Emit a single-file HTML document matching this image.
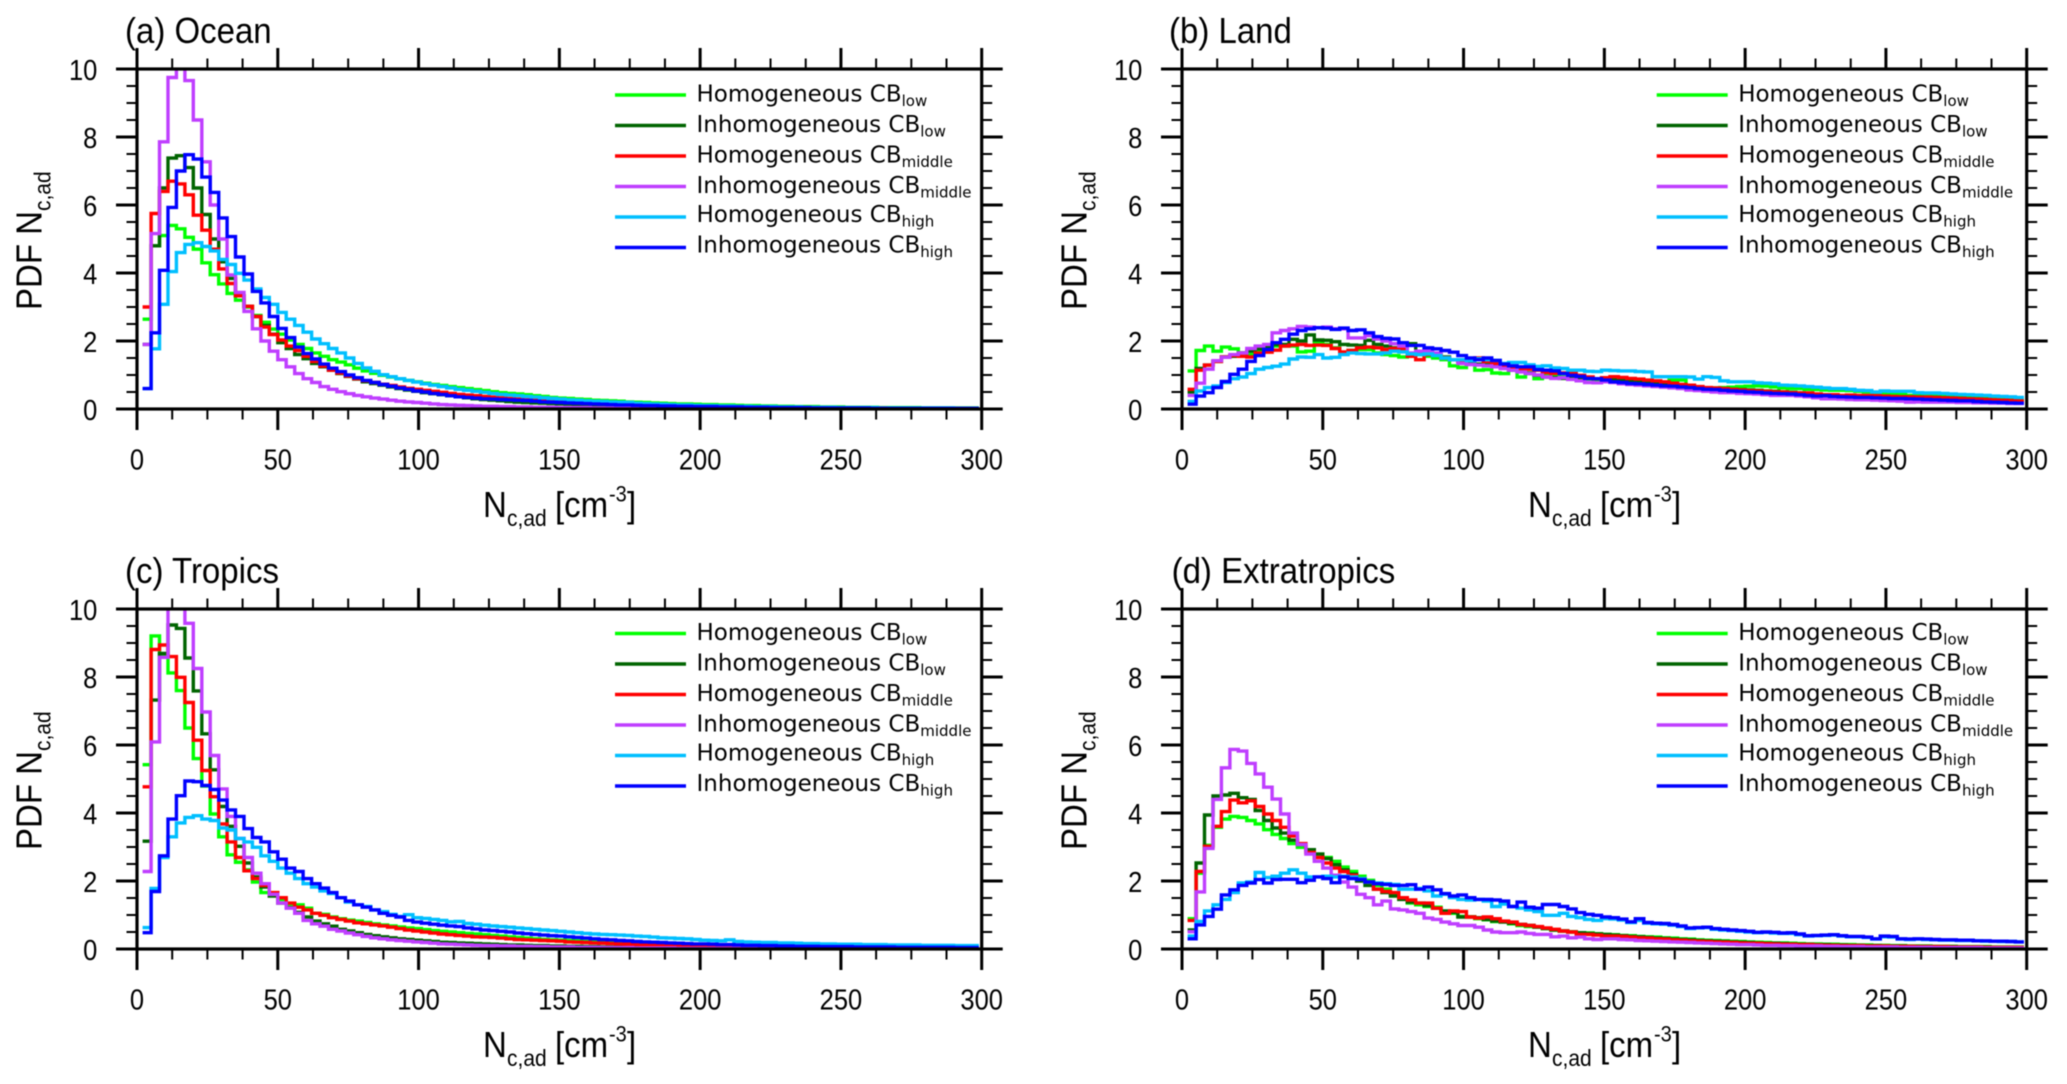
<!DOCTYPE html>
<html lang="en">
<head>
<meta charset="utf-8">
<title>PDF of Nc,ad by region</title>
<style>
html,body{margin:0;padding:0;background:#fff;width:2067px;height:1084px;overflow:hidden}
svg{display:block;filter:blur(0.4px)}
</style>
</head>
<body>
<svg id="chart" xmlns="http://www.w3.org/2000/svg" width="2067" height="1084" viewBox="0 0 2067 1084"></svg>
<script>
const xTickLabels = [0, 50, 100, 150, 200, 250, 300];
const yTickLabels = [0, 2, 4, 6, 8, 10];
const xMinorTicks = [12.5, 25, 37.5, 62.5, 75, 87.5, 112.5, 125, 137.5, 162.5, 175, 187.5, 212.5, 225, 237.5, 262.5, 275, 287.5];
const yMinorTicks = [0.5, 1, 1.5, 2.5, 3, 3.5, 4.5, 5, 5.5, 6.5, 7, 7.5, 8.5, 9, 9.5];
const seriesKinds = ['Homogeneous', 'Inhomogeneous', 'Homogeneous', 'Inhomogeneous', 'Homogeneous', 'Inhomogeneous'];
const seriesLevels = ['low', 'low', 'middle', 'middle', 'high', 'high'];
const seriesColors = ['#00ff00', '#006400', '#ff0000', '#bf3eff', '#00bfff', '#0000ff'];

const oceanHomLow = [2.64,4.8,5.1,5.4,5.3,5.05,4.7,4.3,3.95,3.68,
3.4,3.2,3.0,2.75,2.55,2.35,2.2,2.03,1.9,1.78,
1.65,1.55,1.45,1.38,1.3,1.2,1.12,1.05,.99,.94,
.89,.84,.8,.76,.72,.69,.66,.63,.6,.57,
.54,.51,.48,.46,.44,.42,.39,.37,.34,.32,
.31,.29,.28,.26,.25,.24,.23,.21,.2,.19,
.18,.17,.16,.15,.15,.14,.13,.13,.12,.12,
.11,.1,.1,.09,.09,.08,.08,.07,.07,.07,
.06,.06,.06,.05,.05,.05,.05,.04,.04,.04,
.04,.04,.03,.03,.03,.03,.03,.03,.03];
const oceanInhomLow = [1.9,4.8,6.5,7.38,7.45,7.1,6.5,5.72,5.0,4.33,
3.84,3.33,3.02,2.72,2.46,2.2,1.95,1.78,1.6,1.48,
1.34,1.24,1.14,1.04,.96,.88,.8,.75,.7,.65,
.6,.56,.52,.48,.45,.42,.39,.36,.33,.3,
.28,.26,.24,.22,.2,.19,.18,.17,.16,.15,
.14,.13,.12,.11,.11,.1,.09,.09,.08,.08,
.07,.07,.07,.06,.06,.06,.05,.05,.05,.05,
.04,.04,.04,.04,.04,.03,.03,.03,.03,.03,
.03,.03,.02,.02,.02,.02,.02,.02,.02,.02,
.02,.02,.02,.02,.02,.02,.02,.02,.02];
const oceanHomMiddle = [3.0,5.75,6.4,6.7,6.62,6.3,5.7,5.26,4.7,4.12,
3.69,3.33,3.02,2.72,2.41,2.19,2.03,1.85,1.72,1.55,
1.4,1.26,1.14,1.06,.97,.89,.83,.78,.73,.69,
.65,.61,.58,.55,.52,.49,.46,.43,.41,.39,
.37,.35,.33,.31,.29,.27,.26,.24,.23,.21,
.2,.19,.18,.17,.16,.15,.14,.13,.12,.12,
.11,.1,.1,.09,.09,.08,.08,.07,.07,.07,
.06,.06,.06,.05,.05,.05,.05,.04,.04,.04,
.04,.03,.03,.03,.03,.03,.03,.03,.02,.02,
.02,.02,.02,.02,.02,.02,.02,.02,.02];
const oceanInhomMiddle = [1.9,5.16,7.86,9.75,10.2,9.66,8.5,7.27,6.0,5.0,
3.94,3.43,2.87,2.36,2.0,1.7,1.45,1.24,1.04,.89,
.78,.66,.58,.51,.45,.4,.36,.32,.29,.26,
.23,.21,.19,.17,.15,.13,.12,.11,.1,.09,
.08,.08,.07,.07,.06,.06,.05,.05,.05,.04,
.04,.04,.04,.03,.03,.03,.03,.03,.03,.02,
.02,.02,.02,.02,.02,.02,.02,.02,.02,.02,
.01,.01,.01,.01,.01,.01,.01,.01,.01,.01,
.01,.01,.01,.01,.01,.01,.01,.01,.01,.01,
.01,.01,.01,.01,.01,.01,.01,.01,.01];
const oceanHomHigh = [.6,1.77,3.08,4.04,4.6,4.84,4.89,4.78,4.65,4.4,
4.25,3.99,3.79,3.53,3.28,3.08,2.84,2.64,2.46,2.26,
2.06,1.92,1.78,1.65,1.5,1.34,1.21,1.11,1.01,.95,
.89,.84,.79,.74,.7,.66,.62,.58,.55,.52,
.49,.46,.43,.41,.39,.37,.35,.33,.31,.29,
.27,.26,.24,.23,.22,.21,.2,.19,.17,.16,
.15,.14,.13,.12,.12,.11,.1,.1,.09,.09,
.08,.08,.07,.07,.07,.06,.06,.06,.05,.05,
.05,.05,.04,.04,.04,.04,.04,.03,.03,.03,
.03,.03,.03,.03,.03,.03,.02,.02,.02];
const oceanInhomHigh = [.6,2.24,4.08,5.93,7.0,7.48,7.35,6.82,6.37,5.62,
5.07,4.47,3.97,3.46,3.12,2.72,2.37,2.1,1.82,1.63,
1.47,1.32,1.2,1.1,1.0,.92,.84,.78,.72,.67,
.62,.58,.53,.5,.46,.43,.39,.36,.34,.32,
.3,.29,.28,.27,.26,.25,.23,.21,.2,.19,
.18,.17,.16,.15,.14,.13,.12,.12,.11,.1,
.1,.09,.09,.08,.08,.07,.07,.07,.06,.06,
.06,.05,.05,.05,.04,.04,.04,.04,.04,.03,
.03,.03,.03,.03,.03,.03,.02,.02,.02,.02,
.02,.02,.02,.02,.02,.02,.02,.02,.02];

const landHomLow = [1.12,1.72,1.85,1.7,1.82,1.77,1.65,1.6,1.7,1.75,
1.85,1.85,1.85,1.68,1.7,1.95,1.9,1.8,1.65,1.72,
1.75,1.75,1.65,1.6,1.57,1.53,1.6,1.6,1.55,1.5,
1.45,1.27,1.22,1.45,1.14,1.16,1.06,1.04,1.24,.94,
1.04,.89,1.04,.99,.94,.92,.94,.88,.85,.83,
.85,.84,.82,.75,.72,.72,.68,.85,.85,.6,
.6,.6,.62,.63,.64,.66,.67,.68,.67,.65,
.62,.6,.6,.58,.57,.56,.55,.55,.54,.52,
.5,.48,.47,.45,.42,.4,.4,.39,.38,.38,
.37,.36,.35,.33,.31,.3,.29,.27,.26];
const landInhomLow = [.5,1.19,1.29,1.4,1.53,1.55,1.65,1.7,1.77,1.82,
1.9,1.9,2.05,2.0,2.18,2.03,2.02,1.98,1.9,1.88,
1.87,2.02,1.9,1.85,1.8,1.78,1.92,1.7,1.65,1.6,
1.53,1.45,1.4,1.34,1.32,1.3,1.26,1.2,1.14,1.11,
1.06,.99,.94,.92,.9,.92,.9,.9,.89,.88,
.87,.85,.83,.8,.78,.76,.73,.7,.68,.66,
.64,.62,.6,.6,.58,.57,.56,.55,.53,.52,
.5,.49,.47,.45,.42,.4,.4,.39,.39,.38,
.38,.37,.37,.36,.36,.35,.35,.34,.34,.33,
.32,.31,.3,.29,.28,.26,.25,.23,.21];
const landHomMiddle = [.58,1.14,1.29,1.4,1.53,1.57,1.55,1.53,1.65,1.67,
1.73,1.85,1.88,1.9,1.87,1.88,1.87,1.78,1.68,1.72,
1.8,1.82,1.8,1.75,1.78,1.78,1.55,1.45,1.6,1.6,
1.5,1.45,1.4,1.45,1.5,1.4,1.34,1.24,1.19,1.19,
1.17,1.14,1.07,1.05,1.06,1.06,.99,.94,.89,.92,
.95,.93,.9,.88,.85,.83,.8,.76,.72,.7,
.66,.63,.62,.6,.58,.56,.54,.53,.52,.5,
.5,.48,.47,.47,.44,.42,.42,.4,.41,.4,
.4,.39,.38,.37,.36,.36,.35,.35,.34,.33,
.32,.31,.3,.29,.28,.27,.26,.25,.24];
const landInhomMiddle = [.4,.76,1.17,1.42,1.52,1.6,1.65,1.78,1.85,1.9,
2.24,2.31,2.36,2.43,2.41,2.39,2.41,2.36,2.36,2.09,
2.09,2.16,2.06,2.0,1.92,1.85,1.65,1.7,1.7,1.65,
1.5,1.45,1.34,1.31,1.29,1.27,1.24,1.19,1.14,1.09,
1.04,1.0,.94,.9,.92,.87,.83,.78,.77,.8,
.78,.74,.72,.7,.68,.66,.64,.62,.6,.56,
.54,.52,.5,.48,.48,.46,.45,.44,.42,.4,
.4,.4,.38,.36,.33,.3,.3,.29,.28,.27,
.27,.26,.25,.24,.23,.2,.21,.2,.2,.2,
.2,.19,.19,.18,.18,.17,.17,.16,.16];
const landHomHigh = [.22,.53,.63,.68,.78,.89,.94,1.04,1.17,1.22,
1.26,1.32,1.47,1.53,1.52,1.6,1.5,1.52,1.6,1.65,
1.63,1.62,1.62,1.65,1.7,1.68,1.62,1.6,1.62,1.57,
1.5,1.45,1.45,1.42,1.48,1.45,1.43,1.34,1.37,1.37,
1.3,1.25,1.27,1.21,1.19,1.14,1.14,1.11,1.1,1.14,
1.13,1.12,1.12,1.1,1.09,.95,.95,.95,.95,.94,
.88,.95,.93,.83,.8,.8,.8,.77,.76,.74,
.7,.69,.68,.66,.64,.62,.6,.6,.58,.55,
.54,.5,.53,.52,.52,.52,.48,.47,.47,.46,
.44,.43,.42,.41,.4,.38,.37,.36,.34];
const landInhomHigh = [.14,.38,.48,.63,.81,1.02,1.17,1.4,1.57,1.75,
1.95,2.05,2.2,2.31,2.36,2.39,2.38,2.34,2.38,2.31,
2.33,2.24,2.13,2.08,2.06,1.95,1.87,1.87,1.8,1.77,
1.72,1.67,1.57,1.5,1.45,1.5,1.43,1.32,1.27,1.24,
1.24,1.16,1.14,1.12,1.04,.99,.96,.9,.89,.85,
.8,.78,.75,.74,.72,.7,.68,.67,.65,.63,
.6,.58,.57,.55,.53,.52,.5,.49,.47,.46,
.45,.44,.42,.4,.38,.39,.37,.36,.35,.34,
.34,.33,.32,.31,.31,.3,.29,.28,.27,.26,
.25,.24,.24,.22,.21,.2,.19,.18,.17];

const tropicsHomLow = [5.42,9.21,8.65,8.12,7.6,6.5,5.6,4.79,3.97,3.3,
2.77,2.55,2.33,1.97,1.66,1.63,1.46,1.33,1.3,1.2,
1.05,1.02,.94,.89,.85,.82,.78,.74,.71,.68,
.65,.62,.6,.57,.54,.52,.5,.48,.46,.44,
.42,.4,.38,.36,.34,.32,.3,.28,.27,.26,
.25,.24,.22,.21,.2,.19,.18,.17,.16,.15,
.14,.13,.12,.12,.11,.1,.1,.09,.09,.08,
.08,.07,.07,.06,.06,.06,.05,.05,.05,.04,
.04,.04,.04,.04,.03,.03,.03,.03,.03,.03,
.03,.02,.02,.02,.02,.02,.02,.02,.02];
const tropicsInhomLow = [3.17,7.32,8.69,9.53,9.43,8.56,7.59,6.33,5.27,4.19,
3.61,3.02,2.53,2.12,1.82,1.56,1.35,1.22,1.08,.94,
.82,.74,.67,.58,.53,.48,.43,.39,.36,.33,
.3,.28,.26,.24,.22,.2,.19,.18,.17,.16,
.15,.14,.13,.12,.12,.11,.1,.1,.09,.09,
.08,.08,.07,.07,.06,.06,.06,.05,.05,.05,
.05,.04,.04,.04,.04,.03,.03,.03,.03,.03,
.03,.02,.02,.02,.02,.02,.02,.02,.02,.02,
.02,.02,.02,.01,.01,.01,.01,.01,.01,.01,
.01,.01,.01,.01,.01,.01,.01,.01,.01];
const tropicsHomMiddle = [4.77,8.81,8.94,8.6,7.99,7.25,6.14,5.25,4.48,3.68,
3.15,2.69,2.3,2.07,1.87,1.66,1.51,1.35,1.23,1.15,
1.05,.99,.92,.87,.82,.77,.74,.71,.68,.64,
.6,.56,.53,.5,.47,.44,.42,.4,.38,.36,
.35,.34,.32,.3,.28,.27,.26,.25,.24,.23,
.21,.2,.19,.18,.17,.16,.15,.14,.13,.12,
.12,.11,.1,.1,.09,.09,.08,.08,.07,.07,
.06,.06,.06,.05,.05,.05,.04,.04,.04,.04,
.03,.03,.03,.03,.03,.03,.03,.02,.02,.02,
.02,.02,.02,.02,.02,.02,.02,.02,.02];
const tropicsInhomMiddle = [2.28,6.09,8.58,10.9,10.8,9.58,8.25,6.97,5.69,4.71,
3.9,3.25,2.69,2.23,1.92,1.61,1.35,1.2,1.05,.84,
.74,.67,.58,.53,.47,.42,.37,.33,.3,.27,
.25,.23,.21,.19,.17,.15,.14,.13,.12,.11,
.1,.1,.09,.09,.08,.08,.07,.07,.06,.06,
.06,.05,.05,.05,.04,.04,.04,.04,.03,.03,
.03,.03,.03,.02,.02,.02,.02,.02,.02,.02,
.02,.02,.01,.01,.01,.01,.01,.01,.01,.01,
.01,.01,.01,.01,.01,.01,.01,.01,.01,.01,
.01,.01,.01,.01,.01,.01,.01,.01,.01];
const tropicsHomHigh = [.63,1.78,2.69,3.3,3.71,3.87,3.92,3.82,3.78,3.56,
3.5,3.25,3.15,2.99,2.74,2.58,2.38,2.23,2.07,1.92,
1.82,1.71,1.63,1.51,1.38,1.3,1.25,1.15,1.1,1.02,
.96,1.01,.92,.9,.87,.84,.8,.81,.75,.73,
.7,.68,.66,.64,.62,.6,.58,.56,.54,.52,
.5,.48,.46,.44,.43,.42,.41,.4,.38,.37,
.35,.33,.32,.31,.3,.28,.26,.25,.24,.27,
.22,.21,.2,.19,.19,.18,.18,.17,.16,.16,
.15,.15,.14,.14,.14,.13,.13,.13,.12,.12,
.12,.12,.11,.11,.11,.11,.1,.1,.1];
const tropicsInhomHigh = [.48,1.69,2.74,3.82,4.51,4.94,4.92,4.81,4.69,4.38,
4.09,3.9,3.54,3.28,3.15,2.86,2.64,2.38,2.28,2.07,
1.92,1.79,1.66,1.51,1.41,1.3,1.23,1.15,1.05,.99,
.94,.84,.79,.76,.73,.7,.68,.66,.62,.59,
.56,.54,.52,.5,.47,.45,.43,.41,.39,.38,
.36,.34,.32,.3,.28,.27,.25,.24,.22,.21,
.2,.19,.18,.17,.16,.15,.15,.14,.13,.13,
.12,.11,.11,.1,.1,.09,.09,.08,.08,.08,
.07,.07,.07,.07,.06,.06,.06,.06,.06,.05,
.05,.05,.05,.05,.05,.05,.04,.04,.04];

const extraHomLow = [.89,2.23,3.05,3.58,3.82,3.9,3.87,3.78,3.68,3.51,
3.37,3.25,3.1,2.99,2.89,2.79,2.69,2.58,2.41,2.28,
2.14,2.02,1.87,1.76,1.63,1.49,1.35,1.3,1.25,1.23,
1.1,1.05,.96,.95,.89,.86,.81,.8,.74,.69,
.66,.65,.6,.56,.53,.51,.48,.47,.45,.43,
.42,.4,.39,.37,.36,.35,.33,.32,.3,.29,
.27,.26,.25,.24,.23,.22,.21,.2,.19,.18,
.18,.17,.16,.15,.15,.14,.14,.13,.13,.12,
.12,.11,.11,.1,.1,.09,.09,.09,.08,.08,
.08,.07,.07,.07,.07,.06,.06,.06,.06];
const extraInhomLow = [.56,2.53,3.94,4.5,4.53,4.58,4.45,4.4,4.07,3.78,
3.56,3.41,3.2,3.07,2.92,2.79,2.66,2.48,2.33,2.2,
2.0,1.87,1.76,1.66,1.56,1.46,1.38,1.35,1.28,1.2,
1.12,1.08,.94,.94,.92,.87,.82,.79,.76,.72,
.69,.64,.6,.56,.53,.5,.48,.46,.44,.43,
.41,.39,.37,.36,.34,.32,.31,.29,.28,.27,
.25,.24,.23,.22,.21,.2,.19,.18,.17,.17,
.16,.15,.14,.14,.13,.13,.12,.12,.11,.11,
.1,.1,.09,.09,.09,.08,.08,.08,.07,.07,
.07,.06,.06,.06,.06,.05,.05,.05,.05];
const extraHomMiddle = [.84,2.28,3.02,3.61,4.04,4.38,4.3,4.36,4.19,3.97,
3.78,3.58,3.32,3.1,2.84,2.69,2.53,2.38,2.28,2.17,
2.07,1.97,1.76,1.69,1.66,1.51,1.44,1.35,1.35,1.2,
1.05,1.12,1.1,.94,.91,.94,.89,.82,.79,.72,
.69,.66,.62,.58,.53,.5,.43,.43,.41,.38,
.38,.37,.35,.33,.32,.3,.29,.27,.26,.24,
.23,.22,.21,.2,.19,.18,.17,.17,.16,.15,
.14,.14,.13,.13,.12,.11,.11,.1,.1,.1,
.09,.09,.09,.08,.08,.08,.07,.07,.07,.07,
.06,.06,.06,.06,.05,.05,.05,.05,.05];
const extraInhomMiddle = [.51,1.68,2.96,4.4,5.33,5.87,5.82,5.46,5.15,4.76,
4.41,3.97,3.41,3.07,2.79,2.58,2.38,2.17,1.97,1.82,
1.61,1.51,1.3,1.41,1.18,1.15,1.1,1.05,.91,.87,
.79,.74,.69,.69,.64,.56,.5,.48,.48,.5,
.46,.43,.43,.36,.38,.33,.35,.3,.28,.3,
.3,.28,.27,.25,.24,.23,.22,.21,.2,.19,
.18,.17,.16,.15,.14,.13,.13,.12,.11,.11,
.1,.1,.09,.09,.09,.08,.08,.07,.07,.07,
.06,.06,.06,.06,.05,.05,.05,.05,.04,.04,
.04,.04,.04,.04,.03,.03,.03,.03,.03];
const extraHomHigh = [.38,.81,1.12,1.3,1.46,1.66,1.94,1.97,2.25,2.1,
2.14,2.23,2.33,2.23,2.12,2.12,2.14,2.12,2.14,2.12,
2.07,1.97,1.94,1.92,1.9,1.76,1.76,1.78,1.71,1.56,
1.61,1.51,1.46,1.44,1.46,1.41,1.25,1.32,1.25,1.2,
1.15,1.1,.99,.99,1.05,.96,.92,.87,.84,.89,
.88,.85,.78,.84,.76,.74,.73,.7,.66,.6,
.62,.63,.58,.56,.54,.52,.5,.48,.49,.47,
.46,.46,.42,.38,.39,.4,.41,.38,.36,.36,
.34,.29,.36,.35,.29,.28,.29,.28,.27,.26,
.26,.25,.25,.24,.23,.23,.22,.22,.21];
const extraInhomHigh = [.3,.71,.96,1.17,1.59,1.74,1.87,1.94,2.04,1.94,
2.04,2.05,2.05,1.95,2.02,2.12,2.07,1.95,2.12,2.07,
2.04,1.97,1.92,1.9,1.87,1.87,1.89,1.76,1.82,1.74,
1.63,1.56,1.59,1.51,1.46,1.46,1.44,1.41,1.25,1.38,
1.23,1.2,1.31,1.31,1.25,1.18,1.07,1.02,.99,.94,
.92,.88,.8,.89,.78,.76,.75,.72,.68,.62,
.63,.64,.6,.58,.56,.54,.52,.49,.5,.49,
.47,.48,.44,.39,.4,.41,.42,.39,.37,.37,
.35,.3,.38,.37,.3,.29,.3,.29,.28,.27,
.27,.26,.26,.24,.24,.23,.23,.22,.21];

const oceanSeries = [oceanHomLow, oceanInhomLow, oceanHomMiddle, oceanInhomMiddle, oceanHomHigh, oceanInhomHigh];
const landSeries = [landHomLow, landInhomLow, landHomMiddle, landInhomMiddle, landHomHigh, landInhomHigh];
const tropicsSeries = [tropicsHomLow, tropicsInhomLow, tropicsHomMiddle, tropicsInhomMiddle, tropicsHomHigh, tropicsInhomHigh];
const extraSeries = [extraHomLow, extraInhomLow, extraHomMiddle, extraInhomMiddle, extraHomHigh, extraInhomHigh];

const firstBinEdge = 2;
const binWidth = 3;

const svg = document.getElementById('chart');
const NS = 'http://www.w3.org/2000/svg';
const AXIS_FONT = '"Liberation Sans", Arial, sans-serif';
const LEGEND_FONT = '"DejaVu Sans", Verdana, sans-serif';
const TICK_STRETCH = 1.12;
const LABEL_STRETCH = 1.1;

function mk(tag, attrs, parent, text) {
  const el = document.createElementNS(NS, tag);
  for (const k in attrs) el.setAttribute(k, attrs[k]);
  if (text !== undefined) el.textContent = text;
  parent.appendChild(el);
  return el;
}

function drawPanel(p) {
  const g = mk('g', {}, svg);
  
  

  const xs = v => p.left + v * (p.right - p.left) / 300;
  const ys = v => p.bottom - v * (p.bottom - p.top) / 10;

  const clipId = 'clip-' + p.id;
  const defs = mk('defs', {}, g);
  const cp = mk('clipPath', { id: clipId }, defs);
  mk('rect', { x: p.left, y: p.top, width: p.right - p.left, height: p.bottom - p.top }, cp);

  // series
  p.series.forEach((vals, i) => {
    let d = '';
    vals.forEach((v, k) => {
      const x1 = xs(firstBinEdge + binWidth * k);
      const x2 = xs(firstBinEdge + binWidth * (k + 1));
      d += (k === 0 ? 'M' : 'L') + x1.toFixed(1) + ' ' + ys(v).toFixed(1) + 'L' + x2.toFixed(1) + ' ' + ys(v).toFixed(1);
    });
    const path = mk('path', { d: d, fill: 'none', stroke: seriesColors[i], 'stroke-width': 3.4, 'stroke-linejoin': 'miter', 'clip-path': 'url(#' + clipId + ')' }, g);
    
    
  });

  // ticks
  const tickStyle = { stroke: '#000', 'stroke-linecap': 'butt' };
  const major = 21, minor = 10.5;
  xTickLabels.forEach(v => {
    const x = xs(v);
    const t1 = mk('line', Object.assign({ x1: x, x2: x, y1: p.top - major, y2: p.top, 'stroke-width': 3 }, tickStyle), g);
    
    
    const t2 = mk('line', Object.assign({ x1: x, x2: x, y1: p.bottom, y2: p.bottom + major, 'stroke-width': 3 }, tickStyle), g);
    
    
    const lab = mk('text', { transform: 'translate(' + x + ' ' + (p.bottom + 60.5) + ') scale(1 ' + TICK_STRETCH + ')', 'text-anchor': 'middle', 'font-family': AXIS_FONT, 'font-size': 25.5, fill: '#000' }, g, String(v));
    
    
  });
  xMinorTicks.forEach(v => {
    const x = xs(v);
    const t1 = mk('line', Object.assign({ x1: x, x2: x, y1: p.top - minor, y2: p.top, 'stroke-width': 2 }, tickStyle), g);
    
    
    const t2 = mk('line', Object.assign({ x1: x, x2: x, y1: p.bottom, y2: p.bottom + minor, 'stroke-width': 2 }, tickStyle), g);
    
    
  });
  yTickLabels.forEach(v => {
    const y = ys(v);
    const t1 = mk('line', Object.assign({ x1: p.left - major, x2: p.left, y1: y, y2: y, 'stroke-width': 3 }, tickStyle), g);
    
    
    const t2 = mk('line', Object.assign({ x1: p.right, x2: p.right + major, y1: y, y2: y, 'stroke-width': 3 }, tickStyle), g);
    
    
    const lab = mk('text', { transform: 'translate(' + (p.left - 39.7) + ' ' + (y + 11) + ') scale(1 ' + TICK_STRETCH + ')', 'text-anchor': 'end', 'font-family': AXIS_FONT, 'font-size': 25.5, fill: '#000' }, g, String(v));
    
    
  });
  yMinorTicks.forEach(v => {
    const y = ys(v);
    const t1 = mk('line', Object.assign({ x1: p.left - minor, x2: p.left, y1: y, y2: y, 'stroke-width': 2 }, tickStyle), g);
    
    
    const t2 = mk('line', Object.assign({ x1: p.right, x2: p.right + minor, y1: y, y2: y, 'stroke-width': 2 }, tickStyle), g);
    
    
  });

  // frame
  const frame = mk('rect', { x: p.left, y: p.top, width: p.right - p.left, height: p.bottom - p.top, fill: 'none', stroke: '#000', 'stroke-width': 3.2 }, g);
  
  

  // title
  const title = mk('text', { transform: 'translate(' + p.titleX + ' ' + (p.top - 26) + ') scale(1 ' + LABEL_STRETCH + ')', 'font-family': AXIS_FONT, 'font-size': 33, fill: '#000' }, g, p.title);
  
  

  // x axis title
  const xl = p.left + 346;
  const xb = p.bottom + 108;
  const xt = mk('text', { transform: 'translate(' + xl + ' ' + xb + ') scale(1 ' + LABEL_STRETCH + ')', 'font-family': AXIS_FONT, 'font-size': 33, fill: '#000' }, g);
  
  
  mk('tspan', { x: 0, y: 0 }, xt, 'N');
  mk('tspan', { x: 24, y: 8, 'font-size': 21 }, xt, 'c,ad');
  mk('tspan', { x: 72, y: 0 }, xt, '[cm');
  mk('tspan', { x: 126, y: -14, 'font-size': 20 }, xt, '-3');
  mk('tspan', { x: 144, y: 0 }, xt, ']');

  // y axis title
  const yt = mk('text', { transform: 'translate(' + (p.left - 95.5) + ' ' + (p.bottom - 99) + ') rotate(-90) scale(1 ' + LABEL_STRETCH + ')', 'font-family': AXIS_FONT, 'font-size': 33, fill: '#000' }, g);
  
  
  mk('tspan', { x: 0, y: 0 }, yt, 'PDF N');
  mk('tspan', { dy: 8, 'font-size': 21 }, yt, 'c,ad');

  // legend
  const lg = mk('g', {}, g);
  
  
  seriesColors.forEach((c, i) => {
    const rowY = p.top + p.legendOffset + i * 30.5;
    const ln = mk('line', { x1: p.legendX, x2: p.legendX + 71, y1: rowY, y2: rowY, stroke: c, 'stroke-width': 3.4 }, lg);
    
    
    const tx = mk('text', { x: p.legendX + 81.5, y: rowY + (i < 4 ? 6.7 : 5), 'font-family': LEGEND_FONT, 'font-size': 23, fill: '#000' }, lg);
    
    
    mk('tspan', {}, tx, seriesKinds[i] + ' CB');
    mk('tspan', { dy: 4.5, 'font-size': 15 }, tx, seriesLevels[i]);
  });
}

drawPanel({ id: 'ocean', title: '(a) Ocean', titleX: 125, left: 137, right: 981.7, top: 69, bottom: 409, legendX: 615, legendOffset: 26, series: oceanSeries });
drawPanel({ id: 'land', title: '(b) Land', titleX: 1169, left: 1182, right: 2026.7, top: 69, bottom: 409, legendX: 1656.7, legendOffset: 26, series: landSeries });
drawPanel({ id: 'tropics', title: '(c) Tropics', titleX: 125, left: 137, right: 981.7, top: 609, bottom: 949, legendX: 615, legendOffset: 24.5, series: tropicsSeries });
drawPanel({ id: 'extratropics', title: '(d) Extratropics', titleX: 1171.6, left: 1182, right: 2026.7, top: 609, bottom: 949, legendX: 1656.7, legendOffset: 24.5, series: extraSeries });
</script>
</body>
</html>
